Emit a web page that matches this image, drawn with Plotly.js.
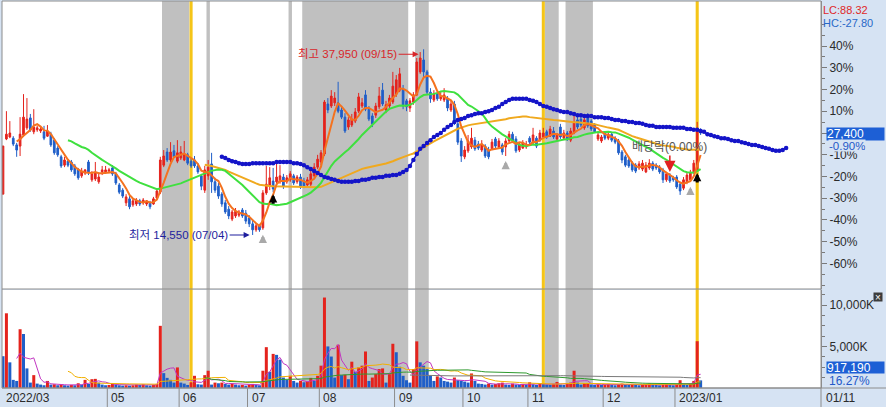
<!DOCTYPE html>
<html><head><meta charset="utf-8">
<script src="https://cdn.plot.ly/plotly-3.0.1.min.js"></script>
<style>html,body{margin:0;padding:0;background:#d6e3f3;}#chart{width:886px;height:407px;}</style>
</head><body><div id="chart"></div>
<script>
// ---- daily candles (trading-day index 0 = 2022/03/18 ... 204 = 2023/01/11) ----
const opens = [
19700,26650,26900,26750,25900,25750,27150,28050,29300,27550,
27800,27650,27550,27000,27250,26500,25500,24400,23350,23850,
23750,23250,22750,22000,22350,23750,21500,21600,21250,22500,
22500,22600,23000,22250,20850,20200,18600,19100,18350,18450,
18850,18600,18450,18600,18450,19200,19950,23350,25000,24000,
25150,23850,24250,24000,24650,23850,24000,23250,22000,20200,
22000,23500,21250,20700,19700,18600,17800,16550,16950,17050,
17700,17300,16700,15950,15200,15700,15450,19850,20700,21350,
21250,21250,21850,21250,21500,22000,21250,21850,21350,20850,
20950,22000,23100,23750,24750,31050,30800,31200,31200,30300,
29400,28150,28400,28900,30150,30800,32200,30400,29550,29650,
30700,32800,30300,30800,31300,32300,32800,32950,31450,30550,
31300,32200,35100,36600,35100,32550,31550,32300,31700,31550,
31700,30300,31050,28550,26400,24400,25150,25650,26500,26000,
25250,25750,25250,25400,26650,25650,25900,25650,26400,27250,
26650,25250,25500,25650,26750,26150,26750,26500,26900,27550,
27000,27650,26650,28150,26750,27400,26500,27400,29050,29150,
28050,29400,28900,28400,26650,26400,27400,26750,27250,26750,
26400,25000,24400,24000,23600,23350,23000,22850,22500,23000,
23600,23350,23100,22750,21500,22100,21750,21850,20950,20450,
21250,21500,22500,22750,27750];
const highs = [
25800,30150,28900,27000,26150,29400,32300,31800,29800,30400,
28300,28150,28300,28400,27550,26750,25750,24650,24400,24100,
24000,23500,23000,23000,22850,24000,22600,23750,22250,23250,
23250,23000,23350,22500,21100,20450,19700,19450,19100,19200,
19100,19200,18950,18850,19350,20450,24400,25250,25500,26250,
25900,26500,25750,26400,24900,24250,24500,23600,22250,23250,
24000,24900,21750,21100,19950,18950,18200,17700,17950,17700,
17950,17700,17050,16450,16050,15950,20200,23250,23100,23000,
23750,23350,22250,22100,22600,22250,22100,22250,21750,21850,
22750,23600,24650,25250,31550,31800,32800,32550,33850,30700,
29900,29400,29800,30550,32450,31800,32800,30800,29900,31200,
33200,33700,31450,32200,35100,34700,35600,33450,31700,31800,
32550,36850,37600,37950,35350,33050,32800,32550,32550,33050,
32050,31550,31450,29050,26750,25750,27150,28050,26900,26400,
26500,26000,25650,26650,26900,26750,26150,26750,27650,27550,
27000,26150,26500,26400,27000,28050,27000,27800,28050,27800,
28300,28150,27400,28550,27800,27650,28050,29800,29400,29550,
29400,29900,29150,28650,27400,27150,27650,27650,27400,27000,
26650,25250,24650,24250,23850,23600,23850,24000,23750,24100,
23850,23600,23350,23000,22500,22350,22000,22100,21250,21850,
22500,22750,24000,28800,28000];
const lows = [
19650,26500,26750,25750,24400,24500,26900,27800,27550,27250,
27550,27400,26500,26900,25650,24650,24400,23000,23100,23100,
22500,22000,21500,21750,22100,22100,21250,21350,21000,22100,
22250,22350,22000,20850,19700,19200,18200,17800,18100,18200,
18200,18350,18200,17800,18350,19100,19700,23100,23750,23750,
24250,23600,24000,23850,23350,23000,23000,22250,20200,19850,
21500,19850,19850,19100,18100,17200,16550,16300,16700,16800,
16700,15950,15550,14550,14950,14950,15200,19600,20200,19950,
21000,21000,20350,21000,21250,20850,21000,20350,20450,20600,
20700,21750,22850,23350,24500,29900,30550,30800,29900,29150,
27400,27800,28150,28650,29900,30550,30150,28900,28150,29300,
30400,30800,29900,30400,31050,31950,32550,30400,30150,30050,
30950,32050,34850,34350,32200,31200,31300,31450,31450,31300,
30150,30050,28400,25900,23750,24100,24900,25400,25150,25250,
25000,24250,24100,25250,25500,25400,24650,24500,26150,26150,
24900,25000,25400,25400,26000,25900,25500,26250,26750,26650,
26900,26650,26500,26650,26500,26400,26250,27250,27900,28150,
27800,28050,27650,27400,26400,26150,26500,26500,26250,26000,
24650,23600,23100,23000,22500,22350,22750,22600,22350,22750,
22600,22750,22250,21100,21250,21100,21250,20350,19600,20200,
20950,21250,22250,22600,27150];
const closes = [
25750,27250,27400,26000,25250,27250,29400,29150,27800,28150,
28050,27900,26750,27650,25900,24900,24650,23250,24000,23350,
22750,22250,21750,22600,22750,22500,22250,22350,21850,22750,
22750,22750,22250,21100,19950,19450,19350,18100,18850,18850,
18450,18950,18850,18100,19100,20100,24000,24500,24000,25000,
24400,24900,25000,24750,23600,23250,23250,22500,20700,22750,
23100,21250,20200,19450,18450,17450,16950,17450,17550,17450,
16950,16300,15950,15200,15700,15200,19850,20950,21750,20350,
21850,22000,20700,21750,22250,21100,21850,20600,20700,21500,
22250,23100,24100,24900,31300,30300,32050,31800,30150,29400,
27650,29050,29150,30050,31950,31200,30400,29150,28550,30800,
32050,31050,30950,31800,33300,34100,34850,30800,30700,31450,
32200,36350,36850,35100,32550,31700,32300,31700,32050,32200,
30550,31050,28800,26250,24500,25250,26400,26750,25400,25500,
26000,24500,24400,26250,25750,26400,25000,26400,27250,26400,
25150,25900,26150,26000,26250,27150,25750,27400,27400,26900,
27900,26900,27150,26900,27400,26650,27650,28800,28150,28400,
29050,28300,27900,27550,27150,26900,26750,27250,26500,26250,
24900,24000,23350,23250,22750,22600,23500,23600,23350,23600,
22850,23000,22500,21500,22250,21350,21500,20600,20100,21500,
22100,22350,23600,27650,27400];
// volume in thousands of shares
const volumesK = [
3830,9000,3090,980,850,7080,6510,2360,650,1550,
530,410,330,850,410,450,330,450,330,290,
370,330,570,410,980,490,1060,1100,650,410,
330,370,570,410,330,290,330,290,330,410,
370,450,330,290,370,490,7490,1790,1220,980,
650,2480,650,530,370,690,1470,450,410,1550,
2080,410,650,570,650,490,410,530,410,330,
370,290,410,490,410,330,2080,4920,1950,4110,
3990,3420,1260,980,1470,850,650,850,690,770,
1220,850,1470,2690,10900,5010,3790,1260,5210,1550,
1600,1060,3170,1950,2480,2690,4400,850,1260,1670,
2280,2360,650,1670,5330,4310,2560,1470,940,650,
2280,5620,3090,2690,2280,1470,850,1400,1260,850,
770,650,1260,940,850,770,650,1750,850,530,
490,410,530,410,490,570,650,410,370,530,
410,370,490,410,690,450,370,570,450,410,
370,490,730,410,370,490,650,2080,650,410,
570,610,410,370,450,370,410,490,370,330,
450,530,410,370,490,410,330,370,450,530,
410,370,330,410,490,370,330,410,940,410,
370,490,850,5637,917.19];
// blue dotted (forward-shifted) average line, day index 64 .. 229
const leadStart = 64;
const leadLine = [
24400,24250,24000,23850,23750,23600,
23500,23500,23500,23600,23600,23600,23600,23600,23600,23600,
23750,23750,23750,23750,23750,23600,23600,23500,23350,23100,
22850,22600,22350,22100,21850,21750,21600,21500,21350,21250,
21250,21250,21250,21350,21350,21500,21500,21600,21750,21750,
21850,21850,22000,22000,22100,22100,22250,22500,22750,23250,
24000,24750,25400,25750,26150,26500,26900,27150,27400,27800,
28150,28400,28800,29050,29150,29300,29550,29650,29800,29900,
29900,30050,30150,30300,30550,30700,31050,31300,31550,31700,
31700,31700,31700,31700,31550,31450,31300,31050,30800,30700,
30550,30400,30300,30150,30050,30050,29900,29800,29650,29650,
29550,29550,29550,29400,29400,29400,29300,29300,29150,29050,
29050,28900,28900,28800,28800,28650,28650,28550,28400,28300,
28300,28150,28150,28150,28150,28150,28050,28050,28050,28050,
27900,27900,27800,27800,27650,27550,27250,27150,27000,26900,
26750,26750,26650,26500,26400,26400,26250,26150,26000,25900,
25900,25750,25650,25500,25400,25250,25150,25150,25250,25500];
const monthStarts = [-0.5,30.5,51.5,71.5,92.5,114.5,134.5,153.5,175.5,196.5];
const monthLabels = ['2022/03','05','06','07','08','09','10','11','12','2023/01'];
const lastDateLabel = '01/11';
const grayBands = [[47,54],[60,60],[84,84],[88,118],[121,124],[159,162],[165,172]];
const yellowDays = [55,158,203];
const pctTicks = [40,30,20,10,0,-10,-20,-30,-40,-50,-60];
const highDay = 123, highDate = '09/15';
const lowDay = 73, lowDate = '07/04';
const buySignals = [79,203];
const watchSignals = [76,147,201];
const exDivDay = 195, exDivText = '배당락(0.00%)';

// ---- derived ----
const days = closes.map((_, i) => i);
const N = closes.length;
const lastClose = closes[N-1];
function ma(arr, n){ return arr.map((_, i) => { if(i < n-1) return null; let s=0; for(let k=i-n+1;k<=i;k++) s+=arr[k]; return s/n; }); }
const RED='#e4231d', BLUE='#1f5ec8';
const fmt = v => Math.round(v).toLocaleString('en-US');

const traces = [];
traces.push({type:'bar', x:days, y:volumesK, xaxis:'x', yaxis:'y2', hoverinfo:'skip',
  marker:{color: volumesK.map((v,i)=> (i>0 && v>volumesK[i-1]) ? RED : BLUE), line:{width:0}}});
[[5,'#c236c2'],[20,'#f2b100'],[60,'#2e9a2e'],[120,'#7a7a7a']].forEach(([n,c])=>{
  traces.push({type:'scatter', mode:'lines', x:days, y:ma(volumesK,n), xaxis:'x', yaxis:'y2', hoverinfo:'skip', line:{color:c, width:1}});
});
traces.push({type:'candlestick', x:days, open:opens, high:highs, low:lows, close:closes, xaxis:'x', yaxis:'y', hoverinfo:'skip',
  increasing:{line:{color:RED, width:1}, fillcolor:RED}, decreasing:{line:{color:BLUE, width:1}, fillcolor:BLUE}, whiskerwidth:0});
[[60,'#f0a91e'],[20,'#3fe03f'],[5,'#f4721f']].forEach(([n,c])=>{
  traces.push({type:'scatter', mode:'lines', x:days, y:ma(closes,n), xaxis:'x', yaxis:'y', hoverinfo:'skip', line:{color:c, width:2}});
});
traces.push({type:'scatter', mode:'lines+markers', x:leadLine.map((_,k)=>leadStart+k), y:leadLine, xaxis:'x', yaxis:'y', hoverinfo:'skip',
  line:{color:'#1414c8', width:1.5}, marker:{color:'#1414c8', size:4.5}});

// ---- geometry helpers (paper coords) ----
const H = 407, mt = 1, mb = 19, plotH = H - mt - mb;
const yp = py => (H - mb - py) / plotH;
const priceDom = [yp(289), 1], volDom = [0, yp(290)];

const shapes = [];
grayBands.forEach(([a,b]) => shapes.push({type:'rect', xref:'x', yref:'paper', x0:a-0.5, x1:b+0.5, y0:0, y1:1, fillcolor:'#c0c0c0', line:{width:0}, layer:'below'}));
yellowDays.forEach(d => shapes.push({type:'rect', xref:'x', yref:'paper', x0:d-0.45, x1:d+0.45, y0:0, y1:1, fillcolor:'#f5c518', line:{width:0}, layer:'below'}));
shapes.push({type:'rect', xref:'paper', yref:'paper', x0:0, x1:1, y0:0, y1:1, line:{color:'#8c8c8c', width:1}, fillcolor:'rgba(0,0,0,0)', layer:'above'});
shapes.push({type:'line', xref:'paper', yref:'paper', x0:0, x1:1, y0:priceDom[0], y1:priceDom[0], line:{color:'#8c8c8c', width:1}, layer:'above'});
shapes.push({type:'line', xref:'paper', yref:'paper', x0:0, x1:1.08, y0:0, y1:0, line:{color:'#8c8c8c', width:1}});
monthStarts.slice(1).forEach(m => shapes.push({type:'line', xref:'x', yref:'paper', x0:m, x1:m, y0:0, y1:-mb/plotH, line:{color:'#8c8c8c', width:1}}));
shapes.push({type:'line', xref:'paper', yref:'paper', x0:1, x1:1, y0:0, y1:-mb/plotH, line:{color:'#8c8c8c', width:1}});

const KFONT = 'Liberation Sans, Noto Sans CJK KR, sans-serif';
const ann = [];
monthLabels.forEach((t,k) => {
  const first = k === 0;
  ann.push({xref: first ? 'paper' : 'x', yref:'paper', x: first ? 0 : monthStarts[k], y:-9.5/plotH, xanchor:'left', yanchor:'middle', xshift:2, showarrow:false, text:t, font:{size:12, color:'#2b2b2b'}});
});
ann.push({xref:'paper', yref:'paper', x:1, y:-9.5/plotH, xanchor:'left', yanchor:'middle', xshift:3, showarrow:false, text:lastDateLabel, font:{size:12, color:'#2b2b2b'}});
// high / low labels
ann.push({xref:'x', yref:'y', x:highDay, y:highs[highDay], yshift:-5, ax:-76, ay:0, showarrow:true, arrowhead:2, arrowsize:1, arrowwidth:1.2, arrowcolor:'#d8262a', standoff:5,
  text:'최고 '+fmt(highs[highDay])+' ('+highDate+')', font:{family:KFONT, size:11.5, color:'#d8262a'}});
const minLow = Math.min(...lows);
ann.push({xref:'x', yref:'y', x:lowDay, y:lows[lowDay], ax:-74, ay:0, showarrow:true, arrowhead:2, arrowsize:1, arrowwidth:1.2, arrowcolor:'#1e1e9e', standoff:3,
  text:'최저 '+fmt(lows[lowDay])+' ('+lowDate+')', font:{family:KFONT, size:11.5, color:'#1e1e9e'}});
ann.push({xref:'x', yref:'y', x:exDivDay, y:highs[exDivDay], ax:0, ay:-26, showarrow:true, arrowhead:2, arrowsize:1.5, arrowwidth:1.5, arrowcolor:'#e02020', standoff:1,
  text:exDivText, font:{family:KFONT, size:12, color:'#555555'}});
buySignals.forEach(d => ann.push({xref:'x', yref:'y', x:d, y:lows[d], ax:0, ay:13, showarrow:true, arrowhead:2, arrowsize:0.55, arrowwidth:3, arrowcolor:'#000000', standoff:2, text:''}));
watchSignals.forEach(d => ann.push({xref:'x', yref:'y', x:d, y:lows[d], ax:0, ay:13, showarrow:true, arrowhead:2, arrowsize:0.55, arrowwidth:3, arrowcolor:'#a9a9a9', standoff:5, text:''}));
// right panel labels
const highMax = Math.max(...highs);
const lc = ((lastClose - minLow)/minLow*100).toFixed(2);
const hc = ((lastClose - highMax)/highMax*100).toFixed(2);
ann.push({xref:'paper', yref:'paper', x:1, y:yp(9.5), xanchor:'left', yanchor:'middle', xshift:1, showarrow:false, borderpad:0, text:'LC:'+lc, font:{size:11, color:'#e02828'}});
ann.push({xref:'paper', yref:'paper', x:1, y:yp(22.5), xanchor:'left', yanchor:'middle', xshift:1, showarrow:false, borderpad:0, text:'HC:'+hc, font:{size:11, color:'#2868c8'}});
const chg = ((lastClose/closes[N-2]-1)*100).toFixed(2);
ann.push({xref:'paper', yref:'y', x:1, y:lastClose, xanchor:'left', yanchor:'middle', xshift:5, yshift:-1, showarrow:false, text:fmt(lastClose), align:'left', width:57, height:12, borderpad:0, bgcolor:'#1d5fd5', font:{size:12, color:'#ffffff'}});
ann.push({xref:'paper', yref:'y', x:1, y:lastClose, xanchor:'left', yanchor:'middle', xshift:7, yshift:-12, showarrow:false, text:chg+'%', height:11, bgcolor:'#d6e3f3', borderpad:0, font:{size:11.5, color:'#2458c8'}});
const lastVol = volumesK[N-1], prevVol = volumesK[N-2];
ann.push({xref:'paper', yref:'y2', x:1, y:lastVol, xanchor:'left', yanchor:'middle', xshift:5, yshift:12.5, showarrow:false, text:fmt(lastVol*1000), align:'left', width:57, height:11, borderpad:0, bgcolor:'#1d5fd5', font:{size:12, color:'#ffffff'}});
ann.push({xref:'paper', yref:'y2', x:1, y:lastVol, xanchor:'left', yanchor:'middle', xshift:7, yshift:0, showarrow:false, height:11, borderpad:0, text:(lastVol/prevVol*100).toFixed(2)+'%', font:{size:12, color:'#2458c8'}});
ann.push({xref:'paper', yref:'paper', x:(878-2)/819, y:yp(296.5), xanchor:'center', yanchor:'middle', showarrow:false, text:'×', width:8, height:8, borderpad:0, bgcolor:'#3c3c3c', font:{size:10, color:'#ffffff'}});

const minorPct = [];
for (let p=-70; p<=50; p+=5) if (pctTicks.indexOf(p) < 0) minorPct.push(lastClose*(1+p/100));

const layout = {
  width:886, height:407, margin:{l:2, r:65, t:mt, b:mb, pad:0},
  paper_bgcolor:'#d6e3f3', plot_bgcolor:'#ffffff',
  font:{family:KFONT, size:12, color:'#2b2b2b'},
  showlegend:false, bargap:0.12,
  xaxis:{range:[-0.29, 239.2], anchor:'y2', showticklabels:false, ticks:'', showgrid:false, zeroline:false, showline:false, rangeslider:{visible:false}},
  yaxis:{domain:priceDom, side:'right', range:[7744, 44032], showgrid:false, zeroline:false,
    tickvals:pctTicks.map(p=>lastClose*(1+p/100)), ticktext:pctTicks.map(p=> p===0 ? '' : p+'%'),
    ticks:'outside', ticklen:5, tickcolor:'#7a7a7a', showline:true, linecolor:'#8c8c8c', linewidth:1,
    tickfont:{size:12, color:'#2b2b2b'},
    minor:{tickvals:minorPct, ticks:'outside', ticklen:3, tickcolor:'#7a7a7a'}},
  yaxis2:{domain:volDom, side:'right', range:[0, 11807], showgrid:false, zeroline:false,
    tickvals:[5000,10000], ticktext:['5,000K','10,000K'],
    ticks:'outside', ticklen:5, tickcolor:'#7a7a7a', showline:true, linecolor:'#8c8c8c', linewidth:1,
    tickfont:{size:12, color:'#2b2b2b'},
    minor:{tickvals:[1250,2500,3750,6250,7500,8750,11250], ticks:'outside', ticklen:3, tickcolor:'#7a7a7a'}},
  shapes:shapes, annotations:ann
};
Plotly.newPlot('chart', traces, layout, {displayModeBar:false, staticPlot:true});
</script></body></html>
